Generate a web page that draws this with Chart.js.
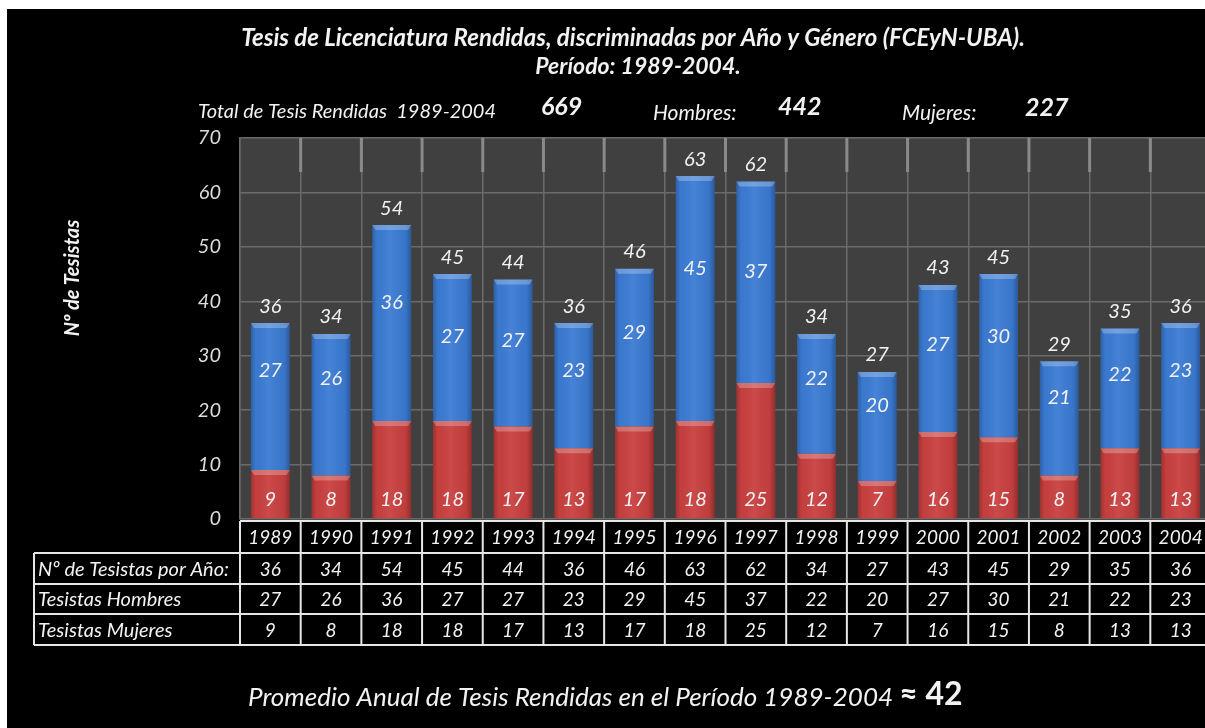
<!DOCTYPE html>
<html lang="es">
<head>
<meta charset="utf-8">
<title>Tesis de Licenciatura Rendidas</title>
<script src="https://cdn.jsdelivr.net/npm/chart.js@4.4.0/dist/chart.umd.min.js"></script>
<style>
    html, body { margin: 0; padding: 0; background: #fff; overflow: hidden; }
    #contenedor { position: absolute; left: 0; top: 0; width: 1220px; height: 728px; }
</style>
</head>
<body>
<div id="contenedor">
    <canvas id="grafico-tesis" width="1220" height="728"></canvas>
</div>
<script>
// Datos
const anios = ['1989', '1990', '1991', '1992', '1993', '1994', '1995', '1996',
               '1997', '1998', '1999', '2000', '2001', '2002', '2003', '2004'];
const hombres = [27, 26, 36, 27, 27, 23, 29, 45, 37, 22, 20, 27, 30, 21, 22, 23];
const mujeres = [9, 8, 18, 18, 17, 13, 17, 18, 25, 12, 7, 16, 15, 8, 13, 13];
const filasTabla = ['Nº de Tesistas por Año:', 'Tesistas Hombres', 'Tesistas Mujeres'];

const totales = anios.map((a, i) => hombres[i] + mujeres[i]);
const totalHombres = hombres.reduce((s, v) => s + v, 0);
const totalMujeres = mujeres.reduce((s, v) => s + v, 0);
const totalTesis = totalHombres + totalMujeres;
const promedio = Math.round(totalTesis / anios.length);

const FUENTE = 'Lato, "Open Sans", sans-serif';
const BLANCO = '#f2f2f2';

// Fondo negro con el borde blanco y fondo gris del área de trazado
const pluginFondo = {
    id: 'fondo',
    beforeDraw(chart) {
        const ctx = chart.ctx;
        const area = chart.chartArea;
        ctx.save();
        ctx.fillStyle = '#ffffff';
        ctx.fillRect(0, 0, chart.width, chart.height);
        ctx.fillStyle = '#000000';
        ctx.fillRect(7, 9, chart.width, chart.height);
        ctx.fillStyle = '#404040';
        ctx.fillRect(area.left, area.top, area.right - area.left, area.bottom - area.top);
        ctx.restore();
    },
    beforeDatasetsDraw(chart) {
        // tramos más claros de las divisiones en la pared del fondo
        const ctx = chart.ctx;
        const area = chart.chartArea;
        const x = chart.scales.x;
        const paso = x.getPixelForValue(1) - x.getPixelForValue(0);
        ctx.save();
        ctx.strokeStyle = '#8a8a8a';
        ctx.lineWidth = 3;
        for (let i = 1; i < anios.length; i++) {
            const px = x.getPixelForValue(i) - paso / 2;
            ctx.beginPath();
            ctx.moveTo(px, area.top);
            ctx.lineTo(px, area.top + 34);
            ctx.stroke();
        }
        ctx.restore();
    }
};

// Relieve de las barras y etiquetas de valores
const pluginBarras = {
    id: 'barras',
    afterDatasetsDraw(chart) {
        const ctx = chart.ctx;
        const y = chart.scales.y;
        ctx.save();
        chart.data.datasets.forEach((ds, d) => {
            const meta = chart.getDatasetMeta(d);
            meta.data.forEach(bar => {
                const izq = bar.x - bar.width / 2;
                const der = bar.x + bar.width / 2;
                const arriba = Math.min(bar.y, bar.base);
                const abajo = Math.max(bar.y, bar.base);
                const sombra = ctx.createLinearGradient(izq, 0, der, 0);
                sombra.addColorStop(0, 'rgba(0,0,0,0.22)');
                sombra.addColorStop(0.12, 'rgba(0,0,0,0.02)');
                sombra.addColorStop(0.45, 'rgba(255,255,255,0.06)');
                sombra.addColorStop(0.85, 'rgba(0,0,0,0.04)');
                sombra.addColorStop(1, 'rgba(0,0,0,0.28)');
                ctx.fillStyle = sombra;
                ctx.fillRect(izq, arriba, der - izq, abajo - arriba);
                // bisel superior
                ctx.fillStyle = 'rgba(255,255,255,0.25)';
                ctx.beginPath();
                ctx.moveTo(izq, arriba);
                ctx.lineTo(der, arriba);
                ctx.lineTo(der - 3, arriba + 5);
                ctx.lineTo(izq + 3, arriba + 5);
                ctx.closePath();
                ctx.fill();
            });
        });

        const metaM = chart.getDatasetMeta(0);
        ctx.fillStyle = BLANCO;
        ctx.font = 'italic 20px ' + FUENTE;
        ctx.textAlign = 'center';
        ctx.textBaseline = 'middle';
        anios.forEach((a, i) => {
            const cx = metaM.data[i].x;
            ctx.fillText(String(mujeres[i]), cx, y.getPixelForValue(0) - 19);
            // etiqueta de hombres en la parte alta del tramo azul
            ctx.fillText(String(hombres[i]), cx, y.getPixelForValue(totales[i] * 0.7 + 2));
            ctx.fillText(String(totales[i]), cx, y.getPixelForValue(totales[i]) - 17);
        });
        ctx.restore();
    }
};

// Títulos, tabla de datos y promedio
const pluginTextos = {
    id: 'textos',
    afterDraw(chart) {
        const ctx = chart.ctx;
        const area = chart.chartArea;
        const x = chart.scales.x;
        const paso = x.getPixelForValue(1) - x.getPixelForValue(0);
        ctx.save();
        ctx.fillStyle = BLANCO;
        ctx.textBaseline = 'middle';

        // título
        ctx.textAlign = 'center';
        ctx.font = 'italic bold 24px ' + FUENTE;
        ctx.fillText('Tesis de Licenciatura Rendidas, discriminadas por Año y Género (FCEyN-UBA).', 633, 38);
        ctx.font = 'italic bold 23px ' + FUENTE;
        ctx.fillText('Período: 1989-2004.', 638, 67);

        // totales
        ctx.textAlign = 'left';
        ctx.font = 'italic 20px ' + FUENTE;
        ctx.fillText('Total de Tesis Rendidas  1989-2004', 198, 112);
        ctx.font = 'italic 21px ' + FUENTE;
        ctx.fillText('Hombres:', 653, 113);
        ctx.fillText('Mujeres:', 902, 113);
        ctx.font = 'italic bold 25px ' + FUENTE;
        ctx.fillText(String(totalTesis), 541, 107);
        ctx.fillText(String(totalHombres), 778, 107);
        ctx.fillText(String(totalMujeres), 1025, 108);

        // título del eje
        ctx.save();
        ctx.translate(73, 278);
        ctx.rotate(-Math.PI / 2);
        ctx.textAlign = 'center';
        ctx.font = 'italic bold 20px ' + FUENTE;
        ctx.fillText('Nº de Tesistas', 0, 0);
        ctx.restore();

        // tabla
        const filas = [area.bottom + 2, 553, 584, 614, 645];
        const izqTabla = 34;
        const derTabla = x.getPixelForValue(anios.length - 1) + paso / 2;
        const valores = [totales, hombres, mujeres];
        ctx.fillStyle = '#000';
        ctx.fillRect(izqTabla, filas[1], derTabla - izqTabla, filas[4] - filas[1]);
        ctx.fillRect(area.left, filas[0], derTabla - area.left, filas[1] - filas[0]);
        ctx.strokeStyle = '#e6e6e6';
        ctx.lineWidth = 2;
        ctx.beginPath();
        ctx.moveTo(area.left, filas[0]);
        ctx.lineTo(derTabla, filas[0]);
        for (let r = 1; r < filas.length; r++) {
            ctx.moveTo(izqTabla, filas[r]);
            ctx.lineTo(derTabla, filas[r]);
        }
        ctx.moveTo(izqTabla, filas[1]);
        ctx.lineTo(izqTabla, filas[4]);
        for (let i = 0; i <= anios.length; i++) {
            const px = x.getPixelForValue(i) - paso / 2;
            ctx.moveTo(px, filas[0]);
            ctx.lineTo(px, filas[4]);
        }
        ctx.stroke();

        ctx.fillStyle = BLANCO;
        ctx.font = 'italic 19px ' + FUENTE;
        ctx.textAlign = 'center';
        anios.forEach((a, i) => {
            const cx = x.getPixelForValue(i);
            ctx.fillText(a, cx, (filas[0] + filas[1]) / 2 + 1);
            valores.forEach((serie, r) => {
                ctx.fillText(String(serie[i]), cx, (filas[r + 1] + filas[r + 2]) / 2 + 1);
            });
        });
        ctx.textAlign = 'left';
        ctx.font = 'italic 20px ' + FUENTE;
        filasTabla.forEach((t, r) => {
            ctx.fillText(t, izqTabla + 4, (filas[r + 1] + filas[r + 2]) / 2 + 1);
        });

        // promedio
        ctx.font = 'italic 26px ' + FUENTE;
        const texto = 'Promedio Anual de Tesis Rendidas en el Período 1989-2004 ';
        ctx.fillText(texto, 248, 698);
        const ancho = ctx.measureText(texto).width;
        ctx.font = 'bold 32px ' + FUENTE;
        ctx.fillText('≈ ' + promedio, 248 + ancho, 695);
        ctx.restore();
    }
};

function crearGraficoTesis() {
    const ctx = document.getElementById('grafico-tesis');
    if (!ctx) return;

    new Chart(ctx.getContext('2d'), {
        type: 'bar',
        data: {
            labels: anios,
            datasets: [
                {
                    label: 'Tesistas Mujeres',
                    data: mujeres,
                    backgroundColor: '#c8403f',
                    borderWidth: 0
                },
                {
                    label: 'Tesistas Hombres',
                    data: hombres,
                    backgroundColor: '#3b7bd3',
                    borderWidth: 0
                }
            ]
        },
        options: {
            responsive: false,
            animation: false,
            devicePixelRatio: 1,
            layout: {
                padding: { left: 0, top: 138, right: 9, bottom: 209 }
            },
            datasets: {
                bar: { categoryPercentage: 1, barPercentage: 0.64 }
            },
            scales: {
                x: {
                    stacked: true,
                    ticks: { display: false },
                    grid: { color: '#6a6a6a', lineWidth: 1.5, drawTicks: false, offset: true },
                    border: { color: '#6a6a6a', width: 1.5 },
                    afterFit(scale) { scale.height = 0; }
                },
                y: {
                    stacked: true,
                    min: 0,
                    max: 70,
                    ticks: {
                        stepSize: 10,
                        color: '#dcdcdc',
                        padding: 19,
                        font: { family: FUENTE, size: 20, style: 'italic' }
                    },
                    grid: { color: '#6a6a6a', lineWidth: 1.5, drawTicks: false },
                    border: { color: '#6a6a6a', width: 1.5 },
                    afterFit(scale) { scale.width = 240; }
                }
            },
            plugins: {
                legend: { display: false },
                tooltip: { enabled: false }
            }
        },
        plugins: [pluginFondo, pluginBarras, pluginTextos]
    });
}

crearGraficoTesis();
</script>
</body>
</html>
